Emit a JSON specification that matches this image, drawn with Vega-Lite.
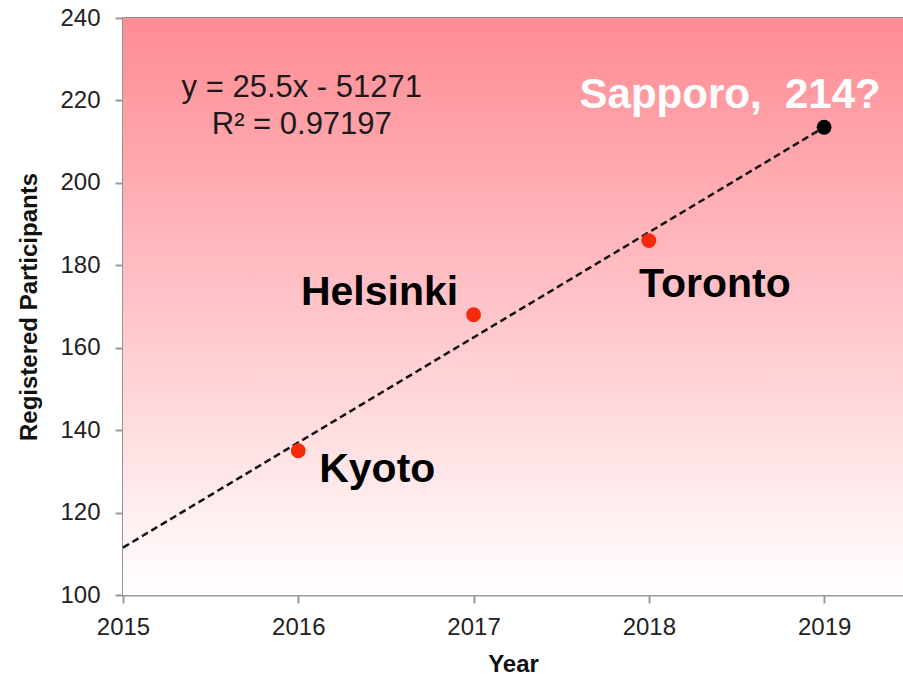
{
  "$schema": "https://vega.github.io/schema/vega-lite/v6.json",
  "width": 780,
  "height": 577,
  "autosize": "none",
  "padding": {"left": 123, "top": 18, "right": 0, "bottom": 80},
  "background": "white",
  "config": {
    "font": "Liberation Sans",
    "view": {"stroke": "#8f8f8f", "strokeWidth": 2},
    "axis": {"grid": false, "domainColor": "#9a9a9a", "domainWidth": 2, "tickColor": "#9a9a9a", "tickWidth": 2, "tickSize": 8, "labelFont": "Liberation Sans", "labelFontSize": 24, "labelColor": "#222222", "titleFont": "Liberation Sans", "titleFontWeight": "bold", "titleColor": "#111111"}
  },
  "datasets": {
    "venues": [
      {"city": "Kyoto", "year": 2016, "participants": 135, "status": "held"},
      {"city": "Helsinki", "year": 2017, "participants": 168, "status": "held"},
      {"city": "Toronto", "year": 2018, "participants": 186, "status": "held"},
      {"city": "Sapporo,\u00a0 214?", "year": 2019, "participants": 213.5, "status": "predicted"}
    ],
    "trend": [
      {"year": 2015, "participants": 111.5},
      {"year": 2019, "participants": 213.5}
    ],
    "bg": [
      {"x0": 2015, "x1": 2019.45, "y0": 100, "y1": 240}
    ],
    "fit": [
      {"equation": "y = 25.5x - 51271", "r2": "R² = 0.97197"}
    ]
  },
  "layer": [
    {
      "data": {"name": "bg"},
      "mark": {"type": "rect", "color": {"gradient": "linear", "x1": 0, "y1": 0, "x2": 0, "y2": 1, "stops": [{"offset": 0, "color": "#ff8b93"}, {"offset": 0.5, "color": "#ffc4c9"}, {"offset": 1, "color": "#ffffff"}]}},
      "encoding": {
        "x": {"field": "x0", "type": "quantitative", "scale": {"domain": [2015, 2019.45], "nice": false, "zero": false},
              "axis": {"values": [2015, 2016, 2017, 2018, 2019], "format": "d", "labelFlush": false, "labelPadding": 12, "title": "Year", "titleFontSize": 24, "titlePadding": 13}},
        "x2": {"field": "x1"},
        "y": {"field": "y0", "type": "quantitative", "scale": {"domain": [100, 240], "nice": false, "zero": false},
              "axis": {"values": [100, 120, 140, 160, 180, 200, 220, 240], "labelPadding": 15, "title": "Registered Participants", "titleFontSize": 24, "titlePadding": 18}},
        "y2": {"field": "y1"}
      }
    },
    {
      "data": {"name": "trend"},
      "mark": {"type": "line", "color": "#111111", "strokeWidth": 2.5, "strokeDash": [7, 4]},
      "encoding": {
        "x": {"field": "year", "type": "quantitative"},
        "y": {"field": "participants", "type": "quantitative"}
      }
    },
    {
      "data": {"name": "venues"},
      "mark": {"type": "circle", "opacity": 1, "size": 220},
      "encoding": {
        "x": {"field": "year", "type": "quantitative"},
        "y": {"field": "participants", "type": "quantitative"},
        "color": {"field": "status", "type": "nominal", "scale": {"domain": ["held", "predicted"], "range": ["#f52a0c", "#000000"]}, "legend": null}
      }
    },
    {
      "data": {"name": "venues"},
      "transform": [{"filter": "datum.city === 'Kyoto'"}],
      "mark": {"type": "text", "font": "Liberation Sans", "fontWeight": "bold", "fontSize": 41, "color": "#000000", "align": "center", "baseline": "middle", "dx": 79, "dy": 19},
      "encoding": {"x": {"field": "year", "type": "quantitative"}, "y": {"field": "participants", "type": "quantitative"}, "text": {"field": "city"}}
    },
    {
      "data": {"name": "venues"},
      "transform": [{"filter": "datum.city === 'Helsinki'"}],
      "mark": {"type": "text", "font": "Liberation Sans", "fontWeight": "bold", "fontSize": 41, "color": "#000000", "align": "center", "baseline": "middle", "dx": -94, "dy": -22},
      "encoding": {"x": {"field": "year", "type": "quantitative"}, "y": {"field": "participants", "type": "quantitative"}, "text": {"field": "city"}}
    },
    {
      "data": {"name": "venues"},
      "transform": [{"filter": "datum.city === 'Toronto'"}],
      "mark": {"type": "text", "font": "Liberation Sans", "fontWeight": "bold", "fontSize": 41, "color": "#000000", "align": "center", "baseline": "middle", "dx": 66, "dy": 44},
      "encoding": {"x": {"field": "year", "type": "quantitative"}, "y": {"field": "participants", "type": "quantitative"}, "text": {"field": "city"}}
    },
    {
      "data": {"name": "venues"},
      "transform": [{"filter": "datum.status === 'predicted'"}],
      "mark": {"type": "text", "font": "Liberation Sans", "fontWeight": "bold", "fontSize": 42, "color": "#ffffff", "align": "center", "baseline": "middle", "dx": -94, "dy": -32},
      "encoding": {"x": {"field": "year", "type": "quantitative"}, "y": {"field": "participants", "type": "quantitative"}, "text": {"field": "city"}}
    },
    {
      "data": {"name": "fit"},
      "mark": {"type": "text", "font": "Liberation Sans", "fontSize": 31, "color": "#1a1a1a", "align": "center", "baseline": "middle"},
      "encoding": {
        "x": {"datum": 2016.02, "type": "quantitative"},
        "y": {"datum": 223, "type": "quantitative"},
        "text": {"field": "equation"}
      }
    },
    {
      "data": {"name": "fit"},
      "mark": {"type": "text", "font": "Liberation Sans", "fontSize": 31, "color": "#1a1a1a", "align": "center", "baseline": "middle"},
      "encoding": {
        "x": {"datum": 2016.02, "type": "quantitative"},
        "y": {"datum": 214, "type": "quantitative"},
        "text": {"field": "r2"}
      }
    }
  ]
}
